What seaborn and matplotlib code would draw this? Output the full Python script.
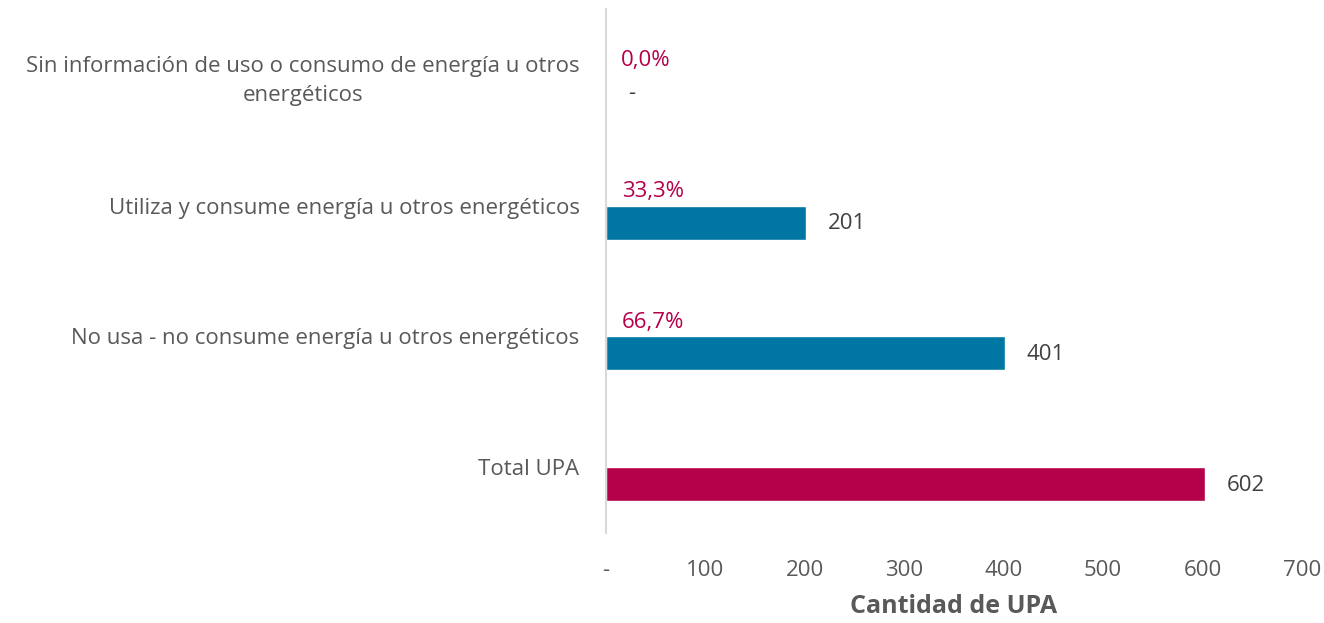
import pandas as pd
import matplotlib.pyplot as plt
import seaborn as sns

# Datos
categorias = [
    "Sin información de uso o consumo de energía u otros\nenergéticos",
    "Utiliza y consume energía u otros energéticos",
    "No usa - no consume energía u otros energéticos",
    "Total UPA",
]
cantidad = [0, 201, 401, 602]
porcentaje = [0.0, 33.3, 66.7, None]
etiquetas_cant = ["-", "201", "401", "602"]
etiquetas_pct = ["0,0%", "33,3%", "66,7%", ""]
ticks_x = [0, 100, 200, 300, 400, 500, 600, 700]
ticks_txt = ["-", "100", "200", "300", "400", "500", "600", "700"]

azul = "#0077A3"
carmin = "#B5004A"
gris = "#595959"

filas = []
for c, p, n in zip(categorias, porcentaje, cantidad):
    filas.append({"categoria": c, "serie": "pct", "valor": (p / 100) if p is not None else None})
    filas.append({"categoria": c, "serie": "cant", "valor": n})
df = pd.DataFrame(filas)

sns.set_style("white")
plt.rcParams["font.family"] = ["Open Sans", "DejaVu Sans"]

fig = plt.figure(figsize=(13.24, 6.23), dpi=100)
ax = fig.add_axes([0.4577, 0.145, 0.9834 - 0.4577, 0.84])
sns.barplot(data=df, y="categoria", x="valor", hue="serie", orient="h",
            palette={"pct": carmin, "cant": azul}, width=0.52,
            legend=False, ax=ax, saturation=1)

# La barra del total va en carmín
for bar in ax.patches:
    y = bar.get_y() + bar.get_height() / 2
    if abs(y - 3.13) < 0.2 and bar.get_width() > 500:
        bar.set_facecolor(carmin)

# Etiquetas
for i in range(len(categorias)):
    ax.annotate(etiquetas_cant[i], (cantidad[i], i + 0.13), xytext=(16, -1),
                textcoords="offset points", va="center", ha="left",
                fontsize=16, color="#404040")
    if etiquetas_pct[i]:
        ax.annotate(etiquetas_pct[i], (porcentaje[i] / 100, i - 0.13), xytext=(11, -2),
                    textcoords="offset points", va="center", ha="left",
                    fontsize=16, color=carmin)

ax.set_xlim(0, 700)
ax.set_xticks(ticks_x)
ax.set_xticklabels(ticks_txt, fontsize=16, color=gris)
ax.tick_params(axis="y", labelsize=16, length=0, pad=19)
ax.tick_params(axis="x", length=0, pad=20)
for lbl in ax.get_yticklabels():
    lbl.set_color(gris)
    lbl.set_horizontalalignment("right")
    lbl.set_multialignment("center")
    lbl.set_linespacing(1.5)
ax.set_ylabel("")
ax.set_xlabel("Cantidad de UPA", fontsize=18, fontweight="bold", color=gris, labelpad=9)
sns.despine(ax=ax, top=True, right=True, bottom=True)
ax.spines["left"].set_color("#D9D9D9")
ax.spines["left"].set_linewidth(1.5)

plt.savefig("out.png", dpi=100)
plt.close()
